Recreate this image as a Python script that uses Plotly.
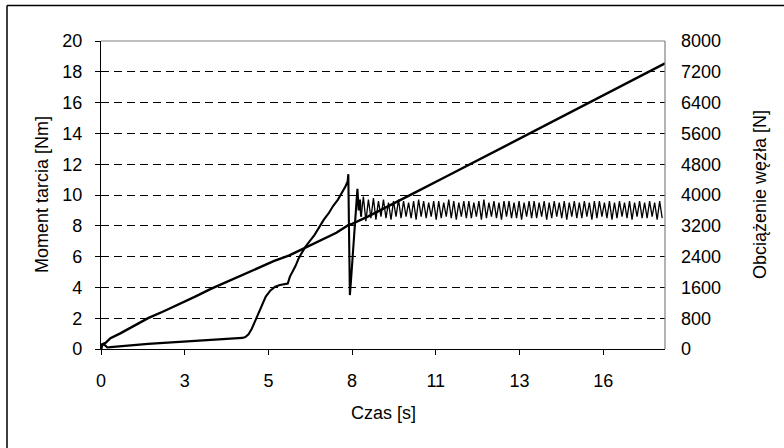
import numpy as np
import plotly.graph_objects as go

# ---- data -------------------------------------------------------------
# Friction torque [Nm] during run-in and the start of the oscillating phase
torque_t = [0.0, 0.05, 0.1, 0.2, 0.3, 0.6, 1.0, 1.5, 2.0, 2.5, 3.0, 3.5, 4.0,
            4.3, 4.5, 4.6, 4.7, 4.8, 4.95, 5.1, 5.25, 5.4, 5.55, 5.7, 5.85,
            5.95, 6.02, 6.1, 6.2, 6.3, 6.4, 6.5, 6.65, 6.8, 6.95, 7.1, 7.25,
            7.4, 7.55, 7.7, 7.8, 7.86, 7.88, 7.9, 7.93, 7.96, 8.0, 8.04, 8.08,
            8.12, 8.17, 8.21, 8.25, 8.29]
torque_v = [0.0, 0.25, 0.3, 0.1, 0.12, 0.18, 0.26, 0.33, 0.4, 0.46, 0.52, 0.58,
            0.63, 0.68, 0.72, 0.78, 0.95, 1.3, 2.0, 2.8, 3.4, 3.8, 4.05, 4.15,
            4.2, 4.25, 4.7, 5.0, 5.4, 5.9, 6.3, 6.6, 7.0, 7.4, 7.9, 8.4, 8.8,
            9.3, 9.7, 10.2, 10.6, 10.9, 11.35, 8.0, 3.5, 4.3, 5.4, 6.6, 7.8,
            8.9, 10.4, 9.0, 9.7, 8.6]

# Oscillating phase: alternating maxima / minima of the torque [Nm]
osc_start = 8.36
osc_half_period = 0.08
osc_peaks = [9.9, 9.7, 9.8, 9.6, 9.7, 9.5, 9.6, 9.7, 9.6, 9.5, 9.6, 9.7, 9.6,
             9.5, 9.6, 9.6, 9.5, 9.7, 9.6, 9.5, 9.6, 9.6, 9.5, 9.6, 9.7, 9.5,
             9.6, 9.5, 9.6, 9.6, 9.5, 9.6, 9.5, 9.6, 9.6, 9.5, 9.6, 9.5, 9.6,
             9.5, 9.6, 9.5, 9.6, 9.5, 9.6, 9.5, 9.6, 9.6, 9.5, 9.6, 9.5, 9.6,
             9.5, 9.6, 9.5, 9.6, 9.5, 9.6, 9.5, 9.6]
osc_troughs = [8.3, 8.5, 8.4, 8.6, 8.5, 8.4, 8.6, 8.5, 8.6, 8.5, 8.4, 8.6, 8.5,
               8.6, 8.4, 8.5, 8.6, 8.5, 8.4, 8.6, 8.5, 8.5, 8.6, 8.4, 8.5, 8.6,
               8.5, 8.4, 8.6, 8.5, 8.5, 8.4, 8.6, 8.5, 8.5, 8.6, 8.4, 8.5, 8.6,
               8.5, 8.4, 8.6, 8.5, 8.5, 8.6, 8.4, 8.5, 8.6, 8.5, 8.4, 8.5, 8.6,
               8.5, 8.4, 8.6, 8.5, 8.5, 8.6, 8.4, 8.5]

# Joint load [N]
load_t = [0.0, 0.03, 0.15, 0.3, 0.6, 1.0, 1.5, 2.0, 2.5, 3.0, 3.5, 4.0, 4.5,
          5.0, 5.5, 6.0, 6.5, 7.0, 7.5, 7.9, 8.0, 8.5, 9.0, 10.0, 11.0, 12.0,
          13.0, 14.0, 15.0, 16.0, 17.0, 17.97]
load_v = [0, 120, 160, 280, 400, 580, 800, 980, 1160, 1360, 1560, 1740, 1940,
          2100, 2280, 2430, 2620, 2830, 3020, 3230, 3250, 3440, 3640, 4060,
          4480, 4900, 5320, 5740, 6160, 6580, 7000, 7420]

# Category-style time labels
x_tick_pos = [0, 8 / 3, 16 / 3, 8, 32 / 3, 40 / 3, 16]
x_tick_text = ["0", "3", "5", "8", "11", "13", "16"]
x_max = 17.97

# ---- assemble oscillation segment ---------------------------------------
osc_v = []
for p, q in zip(osc_peaks, osc_troughs):
    osc_v += [p, q]
osc_t = list(osc_start + osc_half_period * np.arange(len(osc_v)))

FONT = "Liberation Sans, Arial, sans-serif"
FS = 18

# plot area in pixels: x 101..665, y 41..349
L, R, T, B = 101, 665, 41, 349
W, H = 784, 448


def px_x(px):
    return (px - L) / (R - L)


def px_y(py):
    return (B - py) / (B - T)


fig = go.Figure()

fig.add_trace(go.Scatter(
    x=torque_t, y=torque_v, mode="lines",
    line=dict(color="black", width=2.1), showlegend=False))
fig.add_trace(go.Scatter(
    x=[torque_t[-1]] + osc_t, y=[torque_v[-1]] + osc_v, mode="lines",
    line=dict(color="black", width=1.3), showlegend=False))
fig.add_trace(go.Scatter(
    x=load_t, y=load_v, mode="lines", yaxis="y2",
    line=dict(color="black", width=2.4), showlegend=False))

fig.update_layout(
    width=W, height=H,
    margin=dict(l=L, r=W - R, t=T, b=H - B),
    paper_bgcolor="white", plot_bgcolor="white",
    font=dict(family=FONT, size=FS, color="black"),
    xaxis=dict(
        range=[0, x_max], tickmode="array",
        tickvals=x_tick_pos, ticktext=x_tick_text,
        showgrid=False, zeroline=False,
        showline=True, linecolor="black", linewidth=1.2,
        ticks="outside", ticklen=5, tickcolor="black",
        ticklabelstandoff=10, automargin=False,
    ),
    yaxis=dict(
        range=[0, 20], dtick=2,
        showgrid=True, gridcolor="black", gridwidth=1, griddash="8px,5px",
        zeroline=False,
        showline=True, linecolor="black", linewidth=1.2,
        ticks="outside", ticklen=5, tickcolor="black",
        ticklabelstandoff=9, automargin=False,
    ),
    yaxis2=dict(
        range=[0, 8000], dtick=800, overlaying="y", side="right",
        showgrid=False, zeroline=False, showline=False, ticks="",
        ticklabelstandoff=15, automargin=False,
    ),
    annotations=[
        dict(text="Czas [s]", xref="paper", yref="paper",
             x=0.5, y=px_y(413), showarrow=False,
             xanchor="center", yanchor="middle", font=dict(size=FS)),
        dict(text="Moment tarcia [Nm]", xref="paper", yref="paper",
             x=px_x(42), y=0.5, textangle=-90, showarrow=False,
             xanchor="center", yanchor="middle", font=dict(size=FS)),
        dict(text="Obciążenie węzła [N]", xref="paper", yref="paper",
             x=px_x(760), y=0.5, textangle=-90, showarrow=False,
             xanchor="center", yanchor="middle", font=dict(size=FS)),
    ],
    shapes=[
        # grey frame on top and right of the plot area
        dict(type="line", xref="paper", yref="paper", x0=0, x1=1, y0=1, y1=1,
             line=dict(color="#808080", width=1.2)),
        dict(type="line", xref="paper", yref="paper", x0=1, x1=1, y0=0, y1=1,
             line=dict(color="#808080", width=1.2)),
        # outer chart border
        dict(type="line", xref="paper", yref="paper",
             x0=px_x(7), x1=px_x(7), y0=px_y(5.5), y1=px_y(H + 2),
             line=dict(color="black", width=1.5)),
        dict(type="line", xref="paper", yref="paper",
             x0=px_x(7), x1=px_x(W + 2), y0=px_y(5.5), y1=px_y(5.5),
             line=dict(color="black", width=1.5)),
    ],
)

fig.write_html("out.html")
